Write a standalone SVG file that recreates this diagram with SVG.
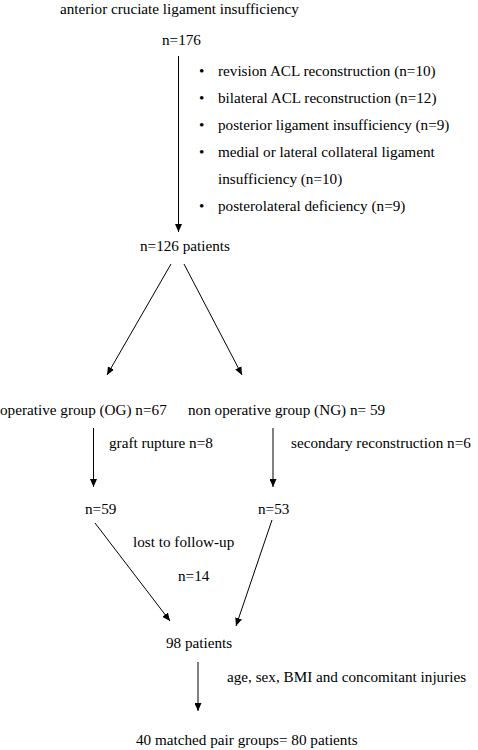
<svg xmlns="http://www.w3.org/2000/svg" width="478" height="750" viewBox="0 0 478 750">
<style>
text{font-family:"Liberation Serif","Times New Roman",serif;font-size:15.2px;fill:#000}
.c{stroke:#000;stroke-width:1;fill:none;marker-end:url(#ah)}
</style>
<defs>
<marker id="ah" viewBox="0 0 8 7" refX="8" refY="3.5" markerWidth="8" markerHeight="7" orient="auto" markerUnits="userSpaceOnUse"><path d="M0,0 L8,3.5 L0,7 z" fill="#000"/></marker>
</defs>
<rect width="478" height="750" fill="#fff"/>
<g id="connectors">
<line class="c" x1="178.5" y1="56" x2="178.5" y2="232"/>
<line class="c" x1="171" y1="264" x2="107" y2="375"/>
<line class="c" x1="184" y1="264" x2="242" y2="375"/>
<line class="c" x1="93.5" y1="428" x2="93.5" y2="487"/>
<line class="c" x1="273" y1="428" x2="273" y2="487"/>
<line class="c" x1="95" y1="523" x2="170" y2="621"/>
<line class="c" x1="272" y1="520" x2="236" y2="626"/>
<line class="c" x1="198" y1="662" x2="198" y2="711"/>
</g>
<g id="n-acl"><text x="60" y="14">anterior cruciate ligament insufficiency</text></g>
<g id="n-176"><text x="162" y="45">n=176</text></g>
<g id="exclusions">
<text x="199" y="76">•</text><text x="218" y="76">revision ACL reconstruction (n=10)</text>
<text x="199" y="103">•</text><text x="218" y="103">bilateral ACL reconstruction (n=12)</text>
<text x="199" y="130">•</text><text x="218" y="130">posterior ligament insufficiency (n=9)</text>
<text x="199" y="157">•</text><text x="218" y="157">medial or lateral collateral ligament</text>
<text x="218" y="184">insufficiency (n=10)</text>
<text x="199" y="211">•</text><text x="218" y="211">posterolateral deficiency (n=9)</text>
</g>
<g id="n-126"><text x="140" y="251">n=126 patients</text></g>
<g id="n-og"><text x="0" y="415">operative group (OG) n=67</text></g>
<g id="n-ng"><text x="188" y="415">non operative group (NG) n= 59</text></g>
<g id="l-graft"><text x="109" y="448">graft rupture n=8</text></g>
<g id="l-secondary"><text x="291" y="448">secondary reconstruction n=6</text></g>
<g id="n-59"><text x="85" y="514">n=59</text></g>
<g id="n-53"><text x="258" y="514">n=53</text></g>
<g id="l-lost"><text x="133" y="547">lost to follow-up</text><text x="178" y="581">n=14</text></g>
<g id="n-98"><text x="166" y="648">98 patients</text></g>
<g id="l-match"><text x="227" y="682">age, sex, BMI and concomitant injuries</text></g>
<g id="n-80"><text x="136" y="745">40 matched pair groups= 80 patients</text></g>
</svg>
